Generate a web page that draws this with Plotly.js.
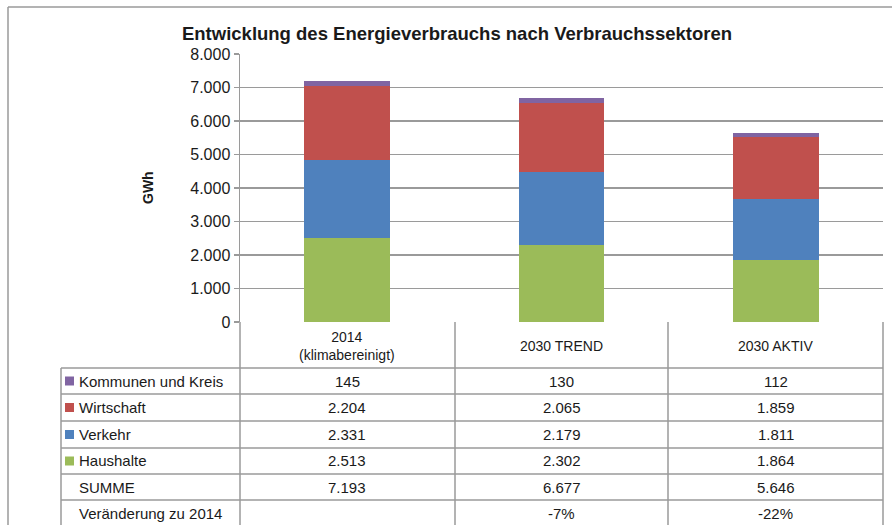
<!DOCTYPE html>
<html>
<head>
<meta charset="utf-8">
<script src="https://cdn.plot.ly/plotly-3.0.1.min.js"></script>
<style>html,body{margin:0;padding:0;background:#fff;}#chart{width:892px;height:525px;}</style>
</head>
<body>
<div id="chart"></div>
<script>
// ---- data ----
const categories = ['2014<br>(klimabereinigt)', '2030 TREND', '2030 AKTIV'];
const seriesNames = ['Kommunen und Kreis', 'Wirtschaft', 'Verkehr', 'Haushalte'];
const kommunen = [145, 130, 112];
const wirtschaft = [2204, 2065, 1859];
const verkehr = [2331, 2179, 1811];
const haushalte = [2513, 2302, 1864];
const summe = [7193, 6677, 5646];
const veraenderung = ['', '-7%', '-22%'];
const tickValues = [0, 1000, 2000, 3000, 4000, 5000, 6000, 7000, 8000];
const chartTitle = 'Entwicklung des Energieverbrauchs nach Verbrauchssektoren';
const yTitle = 'GWh';

// ---- styling ----
const colors = {
  'Kommunen und Kreis': '#8064A2',
  'Wirtschaft': '#C0504D',
  'Verkehr': '#4F81BD',
  'Haushalte': '#9BBB59'
};
const W = 892, H = 525;
const px = x => x / W;
const py = y => 1 - y / H;
const FONT = 'Arial, "Liberation Sans", sans-serif';
const lineColor = '#9a9a9a';
const textColor = '#1a1a1a';

const seriesValues = {
  'Kommunen und Kreis': kommunen,
  'Wirtschaft': wirtschaft,
  'Verkehr': verkehr,
  'Haushalte': haushalte
};

// stack order bottom -> top
const stackOrder = ['Haushalte', 'Verkehr', 'Wirtschaft', 'Kommunen und Kreis'];
const traces = stackOrder.map(name => ({
  type: 'bar',
  name: name,
  x: categories,
  y: seriesValues[name],
  marker: {color: colors[name], line: {width: 0}},
  hoverinfo: 'x+y+name'
}));

const fmt = v => v.toLocaleString('de-DE');

// table geometry (pixels)
const colX = [61, 240, 455, 668, 883];
const headerTop = 322, headerBottom = 368;
const rowLines = [368, 394, 421, 448, 474, 500, 527];

const shapes = [];
const annotations = [];
function hline(x0, x1, y) {
  shapes.push({type: 'line', xref: 'paper', yref: 'paper', x0: px(x0), x1: px(x1), y0: py(y), y1: py(y), line: {color: lineColor, width: 1.5}});
}
function vline(x, y0, y1) {
  shapes.push({type: 'line', xref: 'paper', yref: 'paper', x0: px(x), x1: px(x), y0: py(y0), y1: py(y1), line: {color: lineColor, width: 1.5}});
}

// outer frame
hline(8, 892, 7);
vline(8, 7, 525);

// table grid
rowLines.forEach(y => hline(colX[0], colX[4], y));
vline(colX[0], headerBottom, 525);
vline(colX[1], headerTop, 525);
vline(colX[2], headerTop, 525);
vline(colX[3], headerTop, 525);
vline(colX[4], headerTop, 525);

// header labels
categories.forEach((c, i) => {
  annotations.push({
    xref: 'x', yref: 'paper', x: i, y: py((headerTop + headerBottom) / 2 + 1),
    text: c, showarrow: false, xanchor: 'center', yanchor: 'middle',
    font: {family: FONT, size: 14, color: textColor}
  });
});

// table rows
const rows = [
  {label: 'Kommunen und Kreis', key: true, vals: kommunen.map(fmt)},
  {label: 'Wirtschaft', key: true, vals: wirtschaft.map(fmt)},
  {label: 'Verkehr', key: true, vals: verkehr.map(fmt)},
  {label: 'Haushalte', key: true, vals: haushalte.map(fmt)},
  {label: 'SUMME', key: false, vals: summe.map(fmt)},
  {label: 'Veränderung zu 2014', key: false, vals: veraenderung}
];
rows.forEach((r, ri) => {
  const yc = (rowLines[ri] + rowLines[ri + 1]) / 2;
  if (r.key) {
    shapes.push({type: 'rect', xref: 'paper', yref: 'paper',
      x0: px(65), x1: px(74), y0: py(yc + 4.5), y1: py(yc - 4.5),
      fillcolor: colors[r.label], line: {width: 0}});
  }
  annotations.push({
    xref: 'paper', yref: 'paper', x: px(77), y: py(yc),
    text: r.label, showarrow: false, xanchor: 'left', yanchor: 'middle',
    font: {family: FONT, size: 15, color: textColor}
  });
  r.vals.forEach((v, ci) => {
    annotations.push({
      xref: 'x', yref: 'paper', x: ci, y: py(yc),
      text: v, showarrow: false, xanchor: 'center', yanchor: 'middle',
      font: {family: FONT, size: 15, color: textColor}
    });
  });
});

// y title
annotations.push({
  xref: 'paper', yref: 'paper', x: px(148), y: py(188),
  text: yTitle, textangle: -90, showarrow: false, xanchor: 'center', yanchor: 'middle',
  font: {family: FONT, size: 14, color: textColor, weight: 'bold'}
});

const layout = {
  width: W, height: H,
  margin: {l: 0, r: 0, t: 0, b: 0, pad: 0},
  paper_bgcolor: '#ffffff', plot_bgcolor: '#ffffff',
  separators: ',.',
  showlegend: false,
  barmode: 'stack',
  bargap: 0.6,
  title: {
    text: chartTitle, x: px(457), xanchor: 'center', y: py(34), yanchor: 'middle',
    font: {family: FONT, size: 18.5, color: textColor, weight: 'bold'}
  },
  xaxis: {
    domain: [px(240), px(883)],
    type: 'category',
    showticklabels: false,
    ticks: '', showgrid: false, zeroline: false,
    showline: false, fixedrange: true
  },
  yaxis: {
    domain: [py(322), py(54)],
    range: [0, 8000],
    tickvals: tickValues,
    tickformat: ',d',
    ticks: 'outside', ticklen: 5, tickcolor: lineColor, tickwidth: 1.5,
    showline: true, linecolor: lineColor, linewidth: 1.5,
    showgrid: true, gridcolor: lineColor, gridwidth: 1.5,
    zeroline: false,
    tickfont: {family: FONT, size: 16, color: textColor},
    fixedrange: true
  },
  shapes: shapes,
  annotations: annotations
};

Plotly.newPlot('chart', traces, layout, {displayModeBar: false, staticPlot: true});
</script>
</body>
</html>
